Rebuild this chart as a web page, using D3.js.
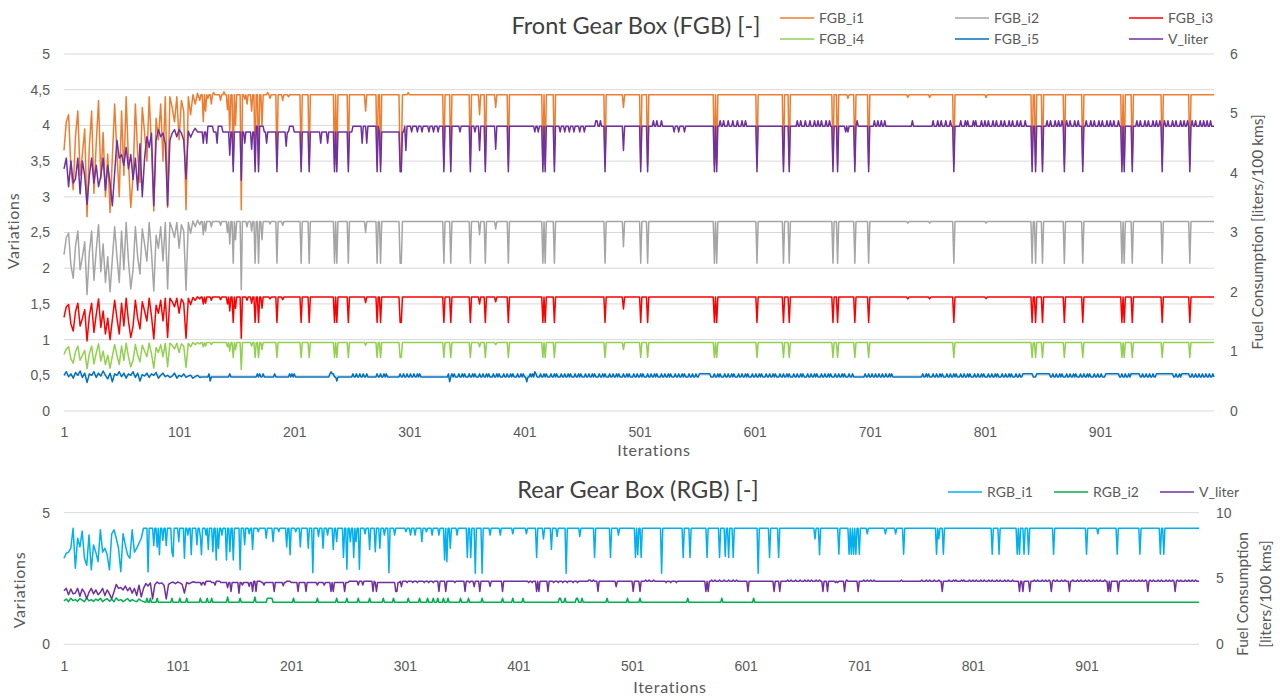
<!DOCTYPE html>
<html>
<head>
<meta charset="utf-8">
<script src="https://cdn.jsdelivr.net/npm/d3@7"></script>
<style>
  body { margin: 0; background: #fff; }
  svg { display: block; font-family: Lato, "Open Sans", sans-serif; }
  .tick text { fill: #595959; font-size: 14px; }
</style>
</head>
<body>
<svg id="chart" width="1283" height="698"></svg>
<script>
// ---------- shared axis data ----------
const iterationCount = 1000;
const xTickLabels = [1, 101, 201, 301, 401, 501, 601, 701, 801, 901];
const frontLeftTicks = [0, 0.5, 1, 1.5, 2, 2.5, 3, 3.5, 4, 4.5, 5];
const frontRightTicks = [0, 1, 2, 3, 4, 5, 6];
const rearLeftTicks = [0, 5];
const rearRightTicks = [0, 5, 10];

// Early, noisy iterations are sampled every second iteration (1, 3, 5, ...)
const earlyStep = 2;

// ---------- Front gear box ----------
const fgbI1Early = [3.65, 4.05, 4.15, 3.4, 3.1, 3.85, 4.2, 3.3, 3.6, 3.95,
  2.72, 3.7, 4.2, 3.05, 3.75, 4.35, 3.25, 3.9, 3.0, 3.6,
  2.78, 3.55, 4.3, 3.6, 3.0, 4.2, 3.3, 4.4, 3.5, 2.85,
  3.3, 4.3, 3.6, 3.2, 4.25, 3.9, 3.5, 4.4, 3.7, 2.8,
  4.1, 3.8, 4.3, 3.5, 4.4, 2.85, 4.4, 4.25, 4.05, 4.4,
  3.8, 4.35, 4.2, 2.82, 4.4, 4.15, 4.43, 4.3, 4.45, 4.35];
const fgbI2Early = [2.19, 2.43, 2.49, 2.04, 1.86, 2.31, 2.52, 1.98, 2.16, 2.37,
  1.63, 2.22, 2.52, 1.83, 2.25, 2.61, 1.95, 2.34, 1.8, 2.16,
  1.67, 2.13, 2.58, 2.16, 1.8, 2.52, 1.98, 2.64, 2.1, 1.71,
  1.98, 2.58, 2.16, 1.92, 2.55, 2.34, 2.1, 2.64, 2.22, 1.68,
  2.46, 2.28, 2.58, 2.1, 2.64, 1.71, 2.64, 2.55, 2.43, 2.64,
  2.28, 2.61, 2.52, 1.69, 2.64, 2.49, 2.66, 2.58, 2.67, 2.61];
const fgbI3Early = [1.31, 1.46, 1.49, 1.22, 1.12, 1.39, 1.51, 1.19, 1.30, 1.42,
  0.98, 1.33, 1.51, 1.10, 1.35, 1.57, 1.17, 1.40, 1.08, 1.30,
  1.00, 1.28, 1.55, 1.30, 1.08, 1.51, 1.19, 1.58, 1.26, 1.03,
  1.19, 1.55, 1.30, 1.15, 1.53, 1.40, 1.26, 1.58, 1.33, 1.01,
  1.48, 1.37, 1.55, 1.26, 1.58, 1.03, 1.58, 1.53, 1.46, 1.58,
  1.37, 1.57, 1.51, 1.02, 1.58, 1.49, 1.59, 1.55, 1.60, 1.57];
const fgbI4Early = [0.79, 0.87, 0.90, 0.73, 0.67, 0.83, 0.91, 0.71, 0.78, 0.85,
  0.59, 0.80, 0.91, 0.66, 0.81, 0.94, 0.70, 0.84, 0.65, 0.78,
  0.60, 0.77, 0.93, 0.78, 0.65, 0.91, 0.71, 0.95, 0.76, 0.62,
  0.71, 0.93, 0.78, 0.69, 0.92, 0.84, 0.76, 0.95, 0.80, 0.60,
  0.89, 0.82, 0.93, 0.76, 0.95, 0.62, 0.95, 0.92, 0.87, 0.95,
  0.82, 0.94, 0.91, 0.61, 0.95, 0.90, 0.96, 0.93, 0.96, 0.94];
const fgbI5Early = [0.5, 0.55, 0.48, 0.52, 0.46, 0.54, 0.5, 0.56, 0.47, 0.53,
  0.40, 0.52, 0.5, 0.55, 0.47, 0.53, 0.49, 0.56, 0.5, 0.45,
  0.53, 0.41, 0.52, 0.5, 0.55, 0.48, 0.53, 0.46, 0.52, 0.5,
  0.55, 0.47, 0.53, 0.42, 0.51, 0.49, 0.53, 0.47, 0.52, 0.5,
  0.54, 0.46, 0.5, 0.53, 0.48, 0.5, 0.47, 0.49, 0.53, 0.46,
  0.5, 0.48, 0.52, 0.47, 0.49, 0.5, 0.46, 0.48, 0.5, 0.47];
const vLiterEarly = [4.07, 4.25, 3.77, 4.2, 3.83, 3.9, 4.25, 3.65, 4.2, 3.95,
  3.47, 3.95, 4.25, 3.83, 4.13, 3.77, 3.95, 4.25, 3.71, 4.13,
  3.83, 3.45, 4.0, 4.55, 4.25, 4.31, 4.13, 4.43, 4.07, 4.31,
  3.89, 4.25, 3.71, 4.49, 3.6, 4.25, 4.61, 4.43, 4.67, 3.45,
  4.55, 4.73, 4.61, 4.67, 4.49, 3.45, 4.55, 4.67, 4.73, 4.61,
  4.73, 4.67, 4.55, 3.9, 4.7, 4.6, 4.69, 4.75, 4.69, 4.69];

// Iterations where all four front ratios fall to their low setting
const fgbDropIters = [148, 167, 170, 186, 207, 214, 236, 238, 248, 273, 276, 293, 294,
  331, 337, 354, 367, 387, 417, 419, 427, 471, 502, 508, 566, 568, 603, 626, 631,
  669, 673, 688, 700, 774, 842, 845, 851, 870, 886, 920, 922, 929, 955, 979];

// plateau / low values per ratio
const fgbI1Levels = [4.43, 3.45];
const fgbI2Levels = [2.655, 2.07];
const fgbI3Levels = [1.595, 1.24];
const fgbI4Levels = [0.958, 0.75];

// individual partial drops, deep drops and small notches  [iteration, value]
const fgbI1Extra = [[122, 4.05], [124, 4.2], [126, 4.38], [129, 4.3], [131, 4.46], [137, 4.35],
  [140, 4.47], [143, 4.22], [145, 3.9], [150, 4.0], [155, 2.82], [158, 4.37], [160, 4.3],
  [164, 4.2], [173, 4.0], [178, 4.46], [180, 4.38], [191, 4.35], [196, 4.4], [263, 4.2],
  [300, 4.46], [362, 4.15], [376, 4.25], [487, 4.25], [682, 4.38], [734, 4.39], [753, 4.39],
  [802, 4.39]];
const fgbI2Extra = [[122, 2.47], [124, 2.52], [129, 2.58], [137, 2.6], [143, 2.5], [145, 2.34],
  [150, 2.4], [155, 1.7], [160, 2.58], [164, 2.52], [173, 2.4], [180, 2.62], [191, 2.6],
  [263, 2.5], [362, 2.47], [376, 2.55], [487, 2.3], [734, 2.63], [753, 2.63], [802, 2.63]];
const fgbI3Extra = [[122, 1.5], [124, 1.51], [129, 1.55], [137, 1.56], [143, 1.5], [145, 1.4],
  [150, 1.44], [155, 1.02], [160, 1.55], [164, 1.51], [173, 1.44], [180, 1.57], [191, 1.56],
  [263, 1.52], [362, 1.5], [376, 1.53], [487, 1.43], [734, 1.57], [753, 1.57], [802, 1.575]];
const fgbI4Extra = [[122, 0.9], [124, 0.91], [129, 0.93], [143, 0.9], [145, 0.84], [150, 0.86],
  [155, 0.58], [164, 0.91], [173, 0.86], [263, 0.92], [362, 0.9], [376, 0.93], [487, 0.86]];

// FGB_i5 oscillates between two close levels
const fgbI5Levels = [0.475, 0.52];
const fgbI5High = [127, 145, 169, 171, 174, 184, 197, 199, 201, [232, 235], 252, 255, 258, 261, 264,
  273, 276, 279, 281, 293, 296, 299, 302, 305, 308, 310,
  335, 338, 340, 344, 347, 349, 353, 356, 358, 362, 365, 368, 370, 374, 377, 379, 383, 386, 389,
  391, 395, 398, 400, 406, 408, 411, 415, 418, 420, 424, 427, 429, 433, 436, 439, 441, 445, 448,
  450, 454, 457, 460, 462, 466, 469, 471, 475, 478, 481, 483, 487, 490, 492, 496, 499, 502, 504,
  508, 511, 514, 516, 520, 523, 526, 528, 532, 535, 538, 540, 544, 547, 550, [553, 562],
  566, 569, 571, 575, 578, 581, 583, 587, 590, 593, 595, 599, 602, 605, 607, 611, 614, 617, 619,
  623, 626, 629, 631, 635, 638, 641, 643, 647, 650, 653, 655, 659, 662, 665, 667, 671, 674, 677,
  679, 683, 686, 697, 700, 703, 706, 709, 712, 715, 718, 720, 747, 750, 752, 756, 759, 762, 764,
  768, 771, 774, 776, 780, 783, 786, 788, 792, 795, 798, 800, 804, 807, 810, 812, 816, 819, 822,
  824, 828, 831, [834, 842], [846, 857], 860, 863, 866, 868, 872, 875, 878, 880, 884, 887, 890,
  892, 896, 899, 902, [906, 917], 920, 923, 926, [928, 935], 938, 941, 944, 947, [950, 964],
  967, 970, [972, 978], 981, 984, 987, 990, 993, 996, 999];
const fgbI5Extra = [[128, 0.42], [233, 0.55], [238, 0.42], [336, 0.41], [403, 0.41], [410, 0.55]];

// ---------- Fuel consumption (shared by both charts) ----------
const vLiterSteps = [[120, 4.69], [297, 4.785]];
const vLiterHighA = [[125, 130], [134, 138], [168, 174], [197, 200], [252, 274]];   // 4.785
const vLiterHighB = [463, 464, 467, 513, 516, 520, 571, 574, 578, 582, 586, 590, 593,
  638, 641, 645, 649, 653, 656, 659, 663, 666, 690, 705, 708, 711, 714, 738, 756, 760, 763,
  767, 771, 780, 784, 786, 791, 793, 798, 801, 804, 808, 811, 815, 818, 822, 825, 829, 832,
  836, 855, 858, 862, 865, 868, 872, 875, 879, 882, 889, 893, 896, 900, 903, 907, 910, 913,
  917, 933, 936, 940, 943, 947, 950, 953, 957, 960, 964, 967, 971, 974, 977, 981, 984, 988,
  991, 994, 997];                                                                      // 4.88
const vLiterLowB = [303, 308, 312, 318, 322, 326, 345, 358, 410, 413, 432, 436, 440, 444,
  449, 453, 531, 535, 540, 680, 682];                                                  // 4.69
const vLiterDrop = 4.02;
const vLiterExtra = [[122, 4.5], [125, 4.5], [134, 4.5], [145, 4.3], [155, 3.88], [158, 4.5],
  [164, 4.4], [177, 4.5], [194, 4.45], [224, 4.5], [230, 4.5], [260, 4.5], [264, 4.5],
  [298, 4.38], [362, 4.38], [376, 4.4], [487, 4.38]];

// ---------- Rear gear box ----------
const rgbI1Early = [3.27, 3.46, 3.5, 3.65, 4.41, 2.89, 4.03, 3.7, 4.3, 3.27,
  3.0, 4.15, 2.83, 3.77, 3.5, 3.14, 4.35, 3.5, 3.65, 3.4,
  2.83, 4.2, 4.35, 4.03, 3.65, 2.76, 4.2, 3.77, 3.4, 3.27,
  4.35, 3.5, 3.65, 3.84, 4.03, 4.41];
const rgbI1Level = 4.41;
const rgbI1Dips = [[75, 2.75], [80, 3.75], [83, 3.7], [85, 3.4], [88, 3.95], [91, 3.75], [96, 3.5],
  [97, 3.33], [102, 3.9], [107, 3.27], [110, 4.15], [113, 3.4], [118, 3.78], [121, 4.1], [122, 3.4],
  [126, 4.15], [128, 3.6], [132, 3.52], [135, 3.2], [137, 3.65], [140, 4.15], [144, 3.2],
  [147, 3.52], [150, 3.2], [156, 2.83], [160, 3.78], [164, 4.2], [167, 3.6], [172, 4.28],
  [179, 4.03], [185, 3.9], [190, 4.28], [197, 3.7], [200, 3.4], [205, 4.28], [209, 3.7],
  [216, 3.65], [220, 2.72], [225, 4.1], [229, 3.65], [233, 4.15], [238, 3.6], [241, 3.9],
  [247, 3.3], [250, 2.85], [253, 3.9], [256, 3.3], [258, 3.9], [261, 2.85], [266, 4.2],
  [270, 3.6], [275, 3.52], [279, 3.65], [283, 4.15], [287, 2.72], [292, 4.15], [302, 4.28],
  [306, 4.15], [310, 4.15], [316, 3.9], [320, 4.28], [325, 4.15], [331, 4.15], [336, 3.2],
  [338, 3.14], [341, 3.65], [347, 4.15], [356, 3.3], [359, 3.3], [363, 2.7], [369, 2.7],
  [376, 4.15], [385, 4.15], [396, 4.2], [408, 4.2], [417, 3.3], [423, 4.0], [430, 3.6],
  [435, 4.1], [443, 2.7], [455, 4.1], [468, 3.3], [482, 3.3], [489, 4.15], [504, 3.3],
  [506, 3.4], [509, 3.3], [527, 2.7], [546, 3.3], [552, 3.3], [567, 3.3], [578, 3.3],
  [583, 3.35], [586, 3.3], [590, 3.3], [612, 2.7], [622, 3.3], [630, 3.3], [662, 4.0],
  [666, 3.4], [683, 3.42], [692, 3.42], [694, 3.42], [696, 3.42], [698, 3.42], [701, 3.42],
  [708, 4.2], [724, 4.2], [733, 4.2], [740, 3.42], [769, 3.42], [771, 4.0], [775, 3.42],
  [818, 3.42], [824, 3.42], [840, 3.42], [842, 3.42], [846, 3.42], [850, 3.42], [872, 3.42],
  [901, 3.42], [911, 4.2], [928, 3.42], [948, 3.42], [966, 3.42], [969, 3.42]];

const rgbI2Early = [1.65, 1.72, 1.62, 1.75, 1.66, 1.7, 1.63, 1.74, 1.68, 1.62,
  1.76, 1.65, 1.7, 1.63, 1.72, 1.66, 1.75, 1.62, 1.69, 1.73,
  1.64, 1.71, 1.62, 1.76, 1.66, 1.7, 1.62, 1.68, 1.74, 1.63,
  1.7, 1.65, 1.62, 1.72, 1.66, 1.62];
const rgbI2Levels = [1.6, 1.75];
const rgbI2High = [74, 77, 83, 96, 103, 109, 121, 127, 131, 156, [180, 184], 203, 224, 241, 250,
  260, 270, 282, 291, 304, 314, 321, 326, 330, 335, 339, 350, 357, 369, 387, 396, 405,
  [437, 438], 442, [452, 453], 457, 479, 497, 508, 550, 580, 608];
const rgbI2Extra = [[145, 1.8], [169, 1.8]];

// ---------- series assembly ----------
function expandIters(list) {
  const out = [];
  list.forEach(d => {
    if (Array.isArray(d)) { for (let i = d[0]; i <= d[1]; i++) out.push(i); }
    else out.push(d);
  });
  return out;
}

// early: sampled values; steps: [[fromIter, level]]; sets: [{iters, value}]; extra: [[iter, value]]
function buildSeries(early, steps, sets, extra) {
  const vals = new Map();
  early.forEach((v, k) => vals.set(1 + k * earlyStep, v));
  const plainStart = early.length * earlyStep;
  for (let i = plainStart; i <= iterationCount; i++) {
    let level = steps[0][1];
    steps.forEach(s => { if (i >= s[0]) level = s[1]; });
    vals.set(i, level);
  }
  sets.forEach(s => expandIters(s.iters).forEach(i => { if (i >= plainStart) vals.set(i, s.value); }));
  extra.forEach(([i, v]) => vals.set(i, v));
  return Array.from(vals, ([i, v]) => ({ i, v })).sort((a, b) => a.i - b.i);
}

const fgbI1 = buildSeries(fgbI1Early, [[0, fgbI1Levels[0]]], [{ iters: fgbDropIters, value: fgbI1Levels[1] }], fgbI1Extra);
const fgbI2 = buildSeries(fgbI2Early, [[0, fgbI2Levels[0]]], [{ iters: fgbDropIters, value: fgbI2Levels[1] }], fgbI2Extra);
const fgbI3 = buildSeries(fgbI3Early, [[0, fgbI3Levels[0]]], [{ iters: fgbDropIters, value: fgbI3Levels[1] }], fgbI3Extra);
const fgbI4 = buildSeries(fgbI4Early, [[0, fgbI4Levels[0]]], [{ iters: fgbDropIters, value: fgbI4Levels[1] }], fgbI4Extra);
const fgbI5 = buildSeries(fgbI5Early, [[0, fgbI5Levels[0]]], [{ iters: fgbI5High, value: fgbI5Levels[1] }], fgbI5Extra);
const vLiter = buildSeries(vLiterEarly, vLiterSteps, [
  { iters: vLiterHighA, value: 4.785 },
  { iters: vLiterHighB, value: 4.88 },
  { iters: vLiterLowB, value: 4.69 },
  { iters: fgbDropIters, value: vLiterDrop }
], vLiterExtra);
const rgbI1 = buildSeries(rgbI1Early, [[0, rgbI1Level]], [], rgbI1Dips);
const rgbI2 = buildSeries(rgbI2Early, [[0, rgbI2Levels[0]]], [{ iters: rgbI2High, value: rgbI2Levels[1] }], rgbI2Extra);

// ---------- drawing ----------
const svg = d3.select("#chart");
const textColor = "#595959";
const gridColor = "#d9d9d9";
const commaFmt = v => String(v).replace(".", ",");

function drawPanel(cfg) {
  const g = svg.append("g");
  const x = d3.scaleLinear().domain([1, iterationCount]).range([cfg.left, cfg.right]);
  const yL = d3.scaleLinear().domain(cfg.leftDomain).range([cfg.bottom, cfg.top]);
  const yR = d3.scaleLinear().domain(cfg.rightDomain).range([cfg.bottom, cfg.top]);

  // horizontal gridlines
  g.append("g").selectAll("line").data(cfg.leftTicks).join("line")
    .attr("x1", cfg.left).attr("x2", cfg.right)
    .attr("y1", d => yL(d)).attr("y2", d => yL(d))
    .attr("stroke", gridColor).attr("stroke-width", 1);

  // axes
  const axL = g.append("g").attr("transform", `translate(${cfg.left},0)`)
    .call(d3.axisLeft(yL).tickValues(cfg.leftTicks).tickFormat(commaFmt).tickSize(0).tickPadding(cfg.left - 50));
  const axR = g.append("g").attr("transform", `translate(${cfg.right},0)`)
    .call(d3.axisRight(yR).tickValues(cfg.rightTicks).tickFormat(commaFmt).tickSize(0).tickPadding(cfg.rightPad));
  const axB = g.append("g").attr("transform", `translate(0,${cfg.bottom})`)
    .call(d3.axisBottom(x).tickValues(xTickLabels).tickFormat(d3.format("d")).tickSize(0).tickPadding(cfg.bottomPad));
  [axL, axR, axB].forEach(a => a.select(".domain").remove());

  // series
  const lineFor = scale => d3.line().x(d => x(d.i)).y(d => scale(d.v));
  cfg.series.forEach(s => {
    g.append("path").datum(s.data)
      .attr("fill", "none").attr("stroke", s.color).attr("stroke-width", 1.5)
      .attr("stroke-linejoin", "round")
      .attr("d", lineFor(s.axis === "right" ? yR : yL));
  });

  // titles
  g.append("text").attr("x", cfg.titleX).attr("y", cfg.titleY)
    .attr("text-anchor", "middle").attr("font-size", 23.5).attr("fill", "#404040")
    .text(cfg.title);
  g.append("text").attr("x", cfg.xTitleX).attr("y", cfg.xTitleY)
    .attr("text-anchor", "middle").attr("font-size", 16).attr("letter-spacing", 0.7)
    .attr("fill", textColor).text("Iterations");
  g.append("text").attr("transform", `translate(${cfg.yTitleX},${cfg.yTitleY}) rotate(-90)`)
    .attr("text-anchor", "middle").attr("font-size", 16).attr("letter-spacing", 0.7)
    .attr("fill", textColor).text("Variations");
  cfg.rightTitle.forEach(t => {
    g.append("text").attr("transform", `translate(${t.x},${cfg.rightTitleY}) rotate(-90)`)
      .attr("text-anchor", "middle").attr("font-size", 15.5).attr("fill", textColor)
      .text(t.text);
  });

  // legend
  const lg = g.append("g").selectAll("g").data(cfg.legend).join("g")
    .attr("transform", d => `translate(${d.x},${d.y})`);
  lg.append("line").attr("x1", 0).attr("x2", cfg.legendLine).attr("y1", 0).attr("y2", 0)
    .attr("stroke", d => d.color).attr("stroke-width", 1.5);
  lg.append("text").attr("x", cfg.legendLine + 5).attr("y", 5)
    .attr("font-size", 14).attr("fill", textColor).text(d => d.name);
}

const orange = "#ed7d31", grey = "#a5a5a5", red = "#ff0000", lightGreen = "#92d050",
      blue = "#0070c0", purple = "#7030a0", cyan = "#00b0f0", green = "#00b050";

drawPanel({
  left: 64, right: 1214, top: 54, bottom: 411,
  leftDomain: [0, 5], rightDomain: [0, 6],
  leftTicks: frontLeftTicks, rightTicks: frontRightTicks,
  rightPad: 16, bottomPad: 16,
  title: "Front Gear Box (FGB) [-]", titleX: 636, titleY: 34,
  xTitleX: 654, xTitleY: 456, yTitleX: 19, yTitleY: 231,
  rightTitle: [{ x: 1263, text: "Fuel Consumption [liters/100 kms]" }], rightTitleY: 232,
  legendLine: 34,
  legend: [
    { name: "FGB_i1", color: orange, x: 780, y: 18 },
    { name: "FGB_i2", color: grey, x: 955, y: 18 },
    { name: "FGB_i3", color: red, x: 1129, y: 18 },
    { name: "FGB_i4", color: lightGreen, x: 780, y: 39 },
    { name: "FGB_i5", color: blue, x: 955, y: 39 },
    { name: "V_liter", color: purple, x: 1129, y: 39 }
  ],
  series: [
    { data: fgbI1, color: orange, axis: "left" },
    { data: fgbI2, color: grey, axis: "left" },
    { data: fgbI3, color: red, axis: "left" },
    { data: fgbI4, color: lightGreen, axis: "left" },
    { data: fgbI5, color: blue, axis: "left" },
    { data: vLiter, color: purple, axis: "right" }
  ]
});

drawPanel({
  left: 64, right: 1199, top: 512.7, bottom: 644.3,
  leftDomain: [0, 5], rightDomain: [0, 10],
  leftTicks: rearLeftTicks, rightTicks: rearRightTicks,
  rightPad: 17, bottomPad: 17,
  title: "Rear Gear Box (RGB) [-]", titleX: 638, titleY: 498,
  xTitleX: 670, xTitleY: 693, yTitleX: 25, yTitleY: 590,
  rightTitle: [{ x: 1248, text: "Fuel Consumption" }, { x: 1271, text: "[liters/100 kms]" }], rightTitleY: 594,
  legendLine: 34,
  legend: [
    { name: "RGB_i1", color: cyan, x: 948, y: 492 },
    { name: "RGB_i2", color: green, x: 1054, y: 492 },
    { name: "V_liter", color: purple, x: 1160, y: 492 }
  ],
  series: [
    { data: rgbI1, color: cyan, axis: "left" },
    { data: rgbI2, color: green, axis: "left" },
    { data: vLiter, color: purple, axis: "right" }
  ]
});
</script>
</body>
</html>
